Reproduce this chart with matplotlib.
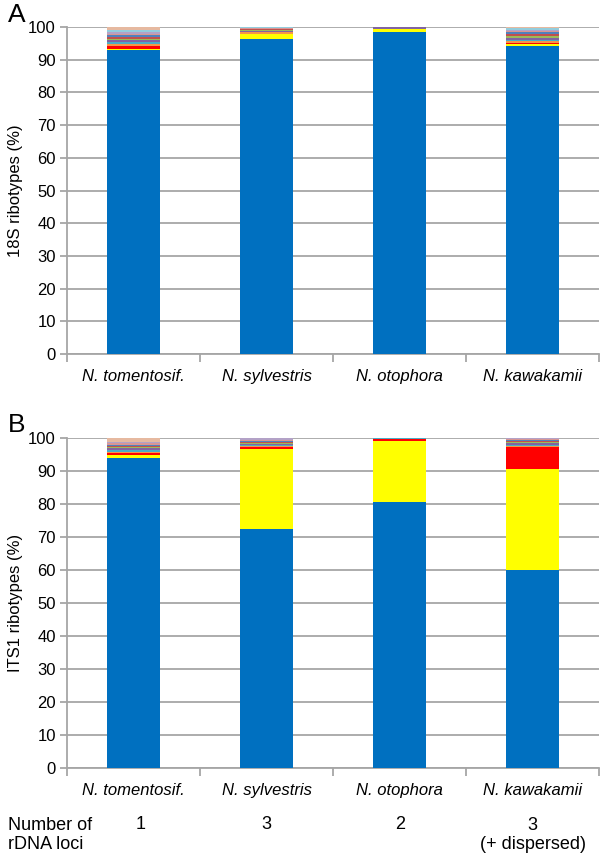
import matplotlib
matplotlib.use("Agg")
import matplotlib.pyplot as plt
import numpy as np

plt.rcParams['font.family'] = ['Liberation Sans', 'DejaVu Sans']

species = ["N. tomentosif.", "N. sylvestris", "N. otophora", "N. kawakamii"]
loci = ["1", "3", "2", "3\n(+ dispersed)"]

# layer colours, bottom to top
layer_colors = ["#0070C0", "#FFFF00", "#FF0000", "#F79646", "#4BACC6", "#8064A2",
                "#9BBB59", "#C0504D", "#4F81BD", "#D99694", "#B3A2C7", "#93CDDD", "#E6B9A0"]

# 18S ribotypes (%), one row per layer, columns = species
s18 = [
    [93.0, 96.3, 98.6, 94.2],
    [0.4, 1.5, 0.7, 0.5],
    [0.8, 0.2, 0.0, 0.5],
    [0.6, 0.4, 0.0, 0.5],
    [0.5, 0.2, 0.0, 0.4],
    [0.6, 0.2, 0.7, 0.6],
    [0.5, 0.2, 0.0, 0.5],
    [0.7, 0.3, 0.0, 0.7],
    [0.5, 0.2, 0.0, 0.5],
    [0.4, 0.1, 0.0, 0.4],
    [0.4, 0.1, 0.0, 0.3],
    [0.6, 0.2, 0.0, 0.6],
    [1.0, 0.1, 0.0, 0.3],
]

# ITS1 ribotypes (%)
its1 = [
    [93.8, 72.4, 80.6, 60.0],
    [0.8, 24.0, 18.3, 30.5],
    [0.7, 0.6, 0.7, 6.6],
    [0.3, 0.4, 0.0, 0.3],
    [0.5, 0.3, 0.4, 0.5],
    [0.6, 0.4, 0.0, 0.6],
    [0.3, 0.4, 0.0, 0.2],
    [0.6, 0.3, 0.0, 0.4],
    [0.3, 0.2, 0.0, 0.3],
    [0.4, 0.3, 0.0, 0.2],
    [0.3, 0.5, 0.0, 0.2],
    [0.2, 0.2, 0.0, 0.1],
    [1.2, 0.0, 0.0, 0.1],
]

fig = plt.figure(figsize=(6, 8.56), dpi=100)
axA = fig.add_axes([0.1117, 0.5864, 0.887, 0.382])
axB = fig.add_axes([0.1117, 0.1028, 0.887, 0.386])

grey = "#A6A6A6"
x = np.arange(len(species))


def draw(ax, data, ylabel):
    bottom = np.zeros(len(species))
    for vals, col in zip(data, layer_colors):
        vals = np.array(vals)
        ax.bar(x, vals, 0.4, bottom=bottom, color=col, linewidth=0, zorder=3)
        bottom += vals
    ax.set_xlim(-0.5, 3.5)
    ax.set_ylim(0, 100)
    ax.set_yticks(range(0, 101, 10))
    ax.yaxis.grid(True, color=grey, linewidth=1.3, zorder=0)
    ax.set_axisbelow(True)
    ax.set_xticks(x)
    ax.set_xticklabels(species, style="italic", fontsize=12)
    ax.set_xticks(np.arange(-0.5, 4, 1), minor=True)
    ax.tick_params(axis="x", which="major", length=0, pad=11)
    ax.tick_params(axis="x", which="minor", length=6, color=grey, width=1.3)
    ax.tick_params(axis="y", length=5, color=grey, width=1.3, labelsize=12, pad=3)
    for s in ["top", "right"]:
        ax.spines[s].set_visible(False)
    for s in ["left", "bottom"]:
        ax.spines[s].set_color(grey)
        ax.spines[s].set_linewidth(1.3)
    ax.set_ylabel(ylabel, fontsize=12, labelpad=4)


draw(axA, s18, "18S ribotypes (%)")
draw(axB, its1, "ITS1 ribotypes (%)")

fig.text(0.013, 0.982, "A", fontsize=19, va="center", ha="left")
fig.text(0.013, 0.503, "B", fontsize=19, va="center", ha="left")

fig.text(0.013, 0.0245, "Number of\nrDNA loci", fontsize=13, va="center", ha="left",
         linespacing=1.2)
tr = matplotlib.transforms.blended_transform_factory(axB.transData, fig.transFigure)
for i, lab in enumerate(loci):
    fig.text(i + (0.05 if i == 0 else 0), 0.0245 if "\n" in lab else 0.037, lab,
             fontsize=13, ha="center", va="center", transform=tr, linespacing=1.2)

fig.savefig("out.png", dpi=100)
